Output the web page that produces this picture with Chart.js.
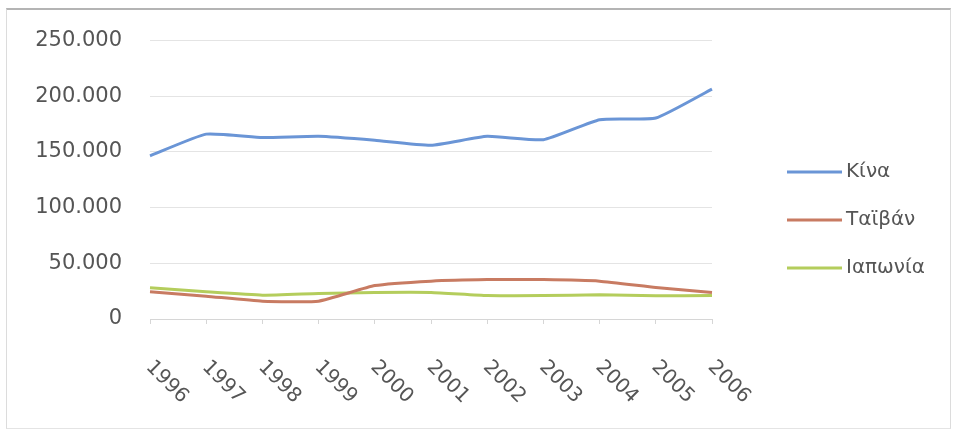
<!DOCTYPE html>
<html>
<head>
<meta charset="utf-8">
<script src="https://cdn.jsdelivr.net/npm/chart.js@4"></script>
<style>
  html, body { margin: 0; padding: 0; background: #fff; }
  #wrap { position: relative; width: 955px; height: 430px; overflow: hidden; }
  #frame { position: absolute; left: 6px; top: 8px; width: 943px; height: 418px;
           border-top: 2px solid #b4b4b4; border-left: 1px solid #dcdcdc;
           border-right: 1px solid #dcdcdc; border-bottom: 1px solid #e4e4e4; }
  #chart { position: absolute; left: 0; top: 0; }
</style>
</head>
<body>
<div id="wrap">
  <div id="frame"></div>
  <canvas id="chart" width="955" height="430"></canvas>
</div>
<script>
// data
let years = ['1996', '1997', '1998', '1999', '2000', '2001', '2002', '2003', '2004', '2005', '2006'];
let china = [146500, 166000, 163000, 164000, 160500, 156000, 164000, 161000, 179000, 180500, 206500];
let taiwan = [24500, 20500, 16000, 16000, 30000, 34000, 35400, 35400, 34000, 28300, 23800];
let japan = [28000, 24400, 21400, 23000, 23800, 23800, 21000, 21000, 21700, 20800, 21000];
let seriesNames = ['Κίνα', 'Ταϊβάν', 'Ιαπωνία'];
let seriesColors = ['#6a95d6', '#c87b62', '#b4cd5c'];
let yTicks = [0, 50000, 100000, 150000, 200000, 250000];

const FONT = 'DejaVu Sans';
const TEXT = '#555555';

function dotted(v) {
    return String(v).replace(/\B(?=(\d{3})+(?!\d))/g, '.');
}

// rotated year labels (clockwise, reading down-right)
const yearLabels = {
    id: 'yearLabels',
    afterDraw(chart) {
        const ctx = chart.ctx;
        const xs = chart.scales.x;
        const base = chart.chartArea.bottom;
        ctx.save();
        ctx.font = `20px "${FONT}"`;
        ctx.fillStyle = TEXT;
        ctx.textAlign = 'left';
        ctx.textBaseline = 'middle';
        years.forEach((y, i) => {
            const px = xs.getPixelForValue(i);
            ctx.save();
            ctx.translate(px - 1, base + 45);
            ctx.rotate(Math.PI / 4);
            ctx.fillText(y, 0, 0);
            ctx.restore();
        });
        ctx.restore();
    }
};

// legend on the right, line samples
const sideLegend = {
    id: 'sideLegend',
    afterDraw(chart) {
        const ctx = chart.ctx;
        ctx.save();
        ctx.font = `20px "${FONT}"`;
        ctx.textAlign = 'left';
        ctx.textBaseline = 'middle';
        chart.data.datasets.forEach((ds, i) => {
            const y = 172 + i * 48;
            ctx.strokeStyle = ds.borderColor;
            ctx.lineWidth = 3;
            ctx.beginPath();
            ctx.moveTo(787, y);
            ctx.lineTo(842, y);
            ctx.stroke();
            ctx.fillStyle = TEXT;
            ctx.fillText(ds.label, 846, y);
        });
        ctx.restore();
    }
};

let ctx = document.getElementById('chart').getContext('2d');

let chart = new Chart(ctx, {
    type: 'line',
    data: {
        labels: years,
        datasets: [china, taiwan, japan].map((d, i) => ({
            label: seriesNames[i],
            data: d,
            borderColor: seriesColors[i],
            backgroundColor: seriesColors[i],
            borderWidth: 3,
            pointRadius: 0,
            tension: 0.15,
            fill: false
        }))
    },
    options: {
        responsive: false,
        animation: false,
        layout: { padding: { left: 0, top: 39, right: 243, bottom: 0 } },
        plugins: {
            legend: { display: false },
            tooltip: { enabled: false }
        },
        scales: {
            x: {
                offset: false,
                grid: { drawOnChartArea: false, drawTicks: true, tickLength: 5, color: '#d6d6d6' },
                border: { display: true, color: '#d6d6d6', width: 1 },
                ticks: { display: false },
                afterFit(s) { s.height = 111; }
            },
            y: {
                min: 0,
                max: 250000,
                afterBuildTicks(s) { s.ticks = yTicks.map(v => ({ value: v })); },
                grid: { color: '#e4e4e4', drawTicks: false },
                border: { display: false },
                ticks: {
                    padding: 28,
                    color: TEXT,
                    font: { family: FONT, size: 21 },
                    callback: v => dotted(v)
                },
                afterFit(s) { s.width = 150; }
            }
        }
    },
    plugins: [yearLabels, sideLegend]
});
</script>
</body>
</html>
